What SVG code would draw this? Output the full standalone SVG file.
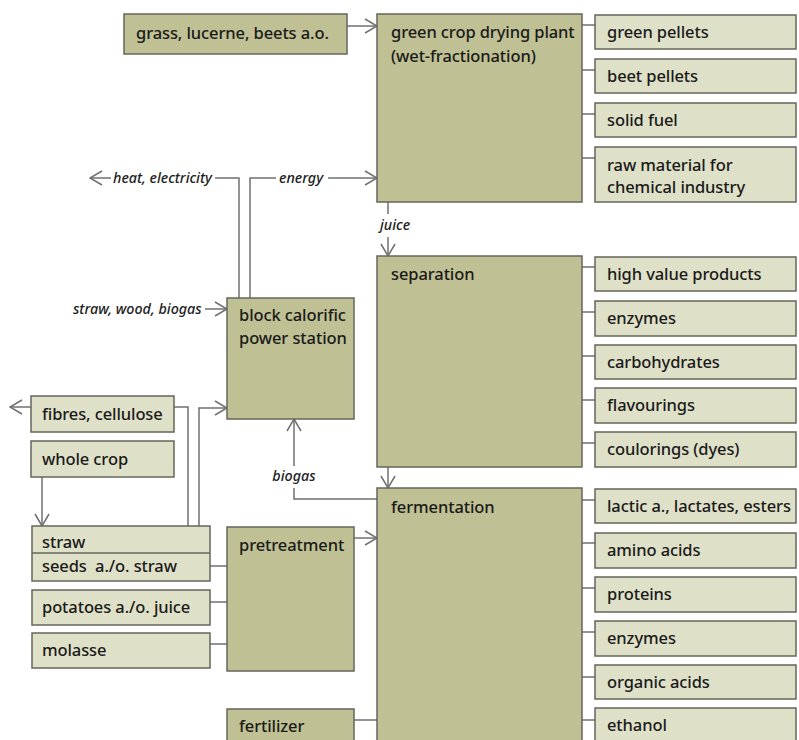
<svg xmlns="http://www.w3.org/2000/svg" width="799" height="740" viewBox="0 0 799 740">
<defs>
<style>
.dk{fill:#bfc093;stroke:#66665c;stroke-width:1.5}
.lt{fill:#dfe0c8;stroke:#66665c;stroke-width:1.5}
.t{font-family:"Noto Sans","Open Sans","Liberation Sans",sans-serif;font-size:16.5px;font-weight:500;letter-spacing:-0.1px;fill:#1a1a1a}
.it{font-family:"Noto Sans","Open Sans","Liberation Sans",sans-serif;font-size:14.3px;font-style:italic;font-weight:500;fill:#222}
.c{fill:none;stroke:#707070;stroke-width:1.5}
.a{marker-end:url(#arr)}
</style>
<marker id="arr" markerUnits="userSpaceOnUse" markerWidth="14" markerHeight="16" viewBox="0 0 14 16" refX="13" refY="8" orient="auto">
<path d="M1,1 L13,8 L1,15" fill="none" stroke="#707070" stroke-width="1.5"/>
</marker>
</defs>
<rect width="799" height="740" fill="#ffffff"/>

<g id="connectors">
<path class="c a" d="M347,26 H377"/>
<path class="c" d="M582,25 H595 M582,70 H595 M582,114 H595 M582,158 H595"/>
<path class="c" d="M239,298 V178 H215"/>
<path class="c a" d="M111,178 H90"/>
<path class="c" d="M250,298 V178 H276"/>
<path class="c a" d="M328,178 H377"/>
<path class="c" d="M388,202 V214"/>
<path class="c a" d="M388,237 V256"/>
<path class="c" d="M582,267 H595 M582,312 H595 M582,356 H595 M582,400 H595 M582,443 H595"/>
<path class="c a" d="M388,467 V488"/>
<path class="c" d="M582,500 H595 M582,543 H595 M582,588 H595 M582,632 H595 M582,677 H595 M582,720 H595"/>
<path class="c a" d="M205,309 H227"/>
<path class="c a" d="M31,407 H10"/>
<path class="c" d="M174,407 H188 V526"/>
<path class="c a" d="M199,526 V408 H227"/>
<path class="c a" d="M42,477 V526"/>
<path class="c" d="M377,499 H294 V488"/>
<path class="c a" d="M294,466 V419"/>
<path class="c" d="M210,566 H227 M210,602 H227 M210,644 H227"/>
<path class="c a" d="M354,538 H377"/>
<path class="c" d="M354,720 H377"/>
<text class="it" x="113" y="183">heat, electricity</text>
<text class="it" x="279" y="183">energy</text>
<text class="it" x="380" y="230">juice</text>
<text class="it" x="73" y="314">straw, wood, biogas</text>
<text class="it" x="294" y="481" text-anchor="middle">biogas</text>
</g>

<g id="grass"><rect class="dk" x="124" y="14" width="223" height="40"/><text class="t" x="136" y="39">grass, lucerne, beets a.o.</text></g>
<g id="green-crop"><rect class="dk" x="377" y="14" width="205" height="188"/><text class="t" x="391" y="38">green crop drying plant</text><text class="t" x="391" y="62">(wet-fractionation)</text></g>
<g id="green-pellets"><rect class="lt" x="595" y="15" width="201" height="34"/><text class="t" x="607" y="38">green pellets</text></g>
<g id="beet-pellets"><rect class="lt" x="595" y="59" width="201" height="34"/><text class="t" x="607" y="82">beet pellets</text></g>
<g id="solid-fuel"><rect class="lt" x="595" y="103" width="201" height="34"/><text class="t" x="607" y="126">solid fuel</text></g>
<g id="raw-material"><rect class="lt" x="595" y="147" width="201" height="55"/><text class="t" x="607" y="171">raw material for</text><text class="t" x="607" y="193">chemical industry</text></g>

<g id="separation"><rect class="dk" x="377" y="256" width="205" height="211"/><text class="t" x="391" y="280">separation</text></g>
<g id="high-value"><rect class="lt" x="595" y="257" width="201" height="34"/><text class="t" x="607" y="280">high value products</text></g>
<g id="enzymes1"><rect class="lt" x="595" y="301" width="201" height="35"/><text class="t" x="607" y="324">enzymes</text></g>
<g id="carbohydrates"><rect class="lt" x="595" y="345" width="201" height="34"/><text class="t" x="607" y="368">carbohydrates</text></g>
<g id="flavourings"><rect class="lt" x="595" y="388" width="201" height="35"/><text class="t" x="607" y="411">flavourings</text></g>
<g id="coulorings"><rect class="lt" x="595" y="432" width="201" height="35"/><text class="t" x="607" y="455">coulorings (dyes)</text></g>

<g id="fermentation"><rect class="dk" x="377" y="488" width="205" height="262"/><text class="t" x="391" y="513">fermentation</text></g>
<g id="lactic"><rect class="lt" x="595" y="489" width="201" height="34"/><text class="t" x="607" y="512">lactic a., lactates, esters</text></g>
<g id="amino"><rect class="lt" x="595" y="533" width="201" height="35"/><text class="t" x="607" y="556">amino acids</text></g>
<g id="proteins"><rect class="lt" x="595" y="577" width="201" height="35"/><text class="t" x="607" y="600">proteins</text></g>
<g id="enzymes2"><rect class="lt" x="595" y="621" width="201" height="35"/><text class="t" x="607" y="644">enzymes</text></g>
<g id="organic"><rect class="lt" x="595" y="665" width="201" height="34"/><text class="t" x="607" y="688">organic acids</text></g>
<g id="ethanol"><rect class="lt" x="595" y="708" width="201" height="42"/><text class="t" x="607" y="731">ethanol</text></g>

<g id="block"><rect class="dk" x="227" y="298" width="127" height="121"/><text class="t" x="239" y="321">block calorific</text><text class="t" x="239" y="344">power station</text></g>
<g id="fibres"><rect class="lt" x="31" y="396" width="143" height="36"/><text class="t" x="42" y="420">fibres, cellulose</text></g>
<g id="whole-crop"><rect class="lt" x="31" y="441" width="143" height="36"/><text class="t" x="42" y="465">whole crop</text></g>
<g id="straw-seeds"><rect class="lt" x="32" y="526" width="178" height="55"/><line x1="32" y1="553" x2="210" y2="553" stroke="#66665c" stroke-width="1.5"/><text class="t" x="42" y="548">straw</text><text class="t" x="42" y="572">seeds&#160; a./o. straw</text></g>
<g id="potatoes"><rect class="lt" x="32" y="590" width="178" height="35"/><text class="t" x="42" y="613">potatoes a./o. juice</text></g>
<g id="molasse"><rect class="lt" x="32" y="633" width="178" height="35"/><text class="t" x="42" y="656">molasse</text></g>
<g id="pretreatment"><rect class="dk" x="227" y="527" width="127" height="144"/><text class="t" x="239" y="551">pretreatment</text></g>
<g id="fertilizer"><rect class="dk" x="227" y="709" width="127" height="41"/><text class="t" x="239" y="732">fertilizer</text></g>
</svg>
